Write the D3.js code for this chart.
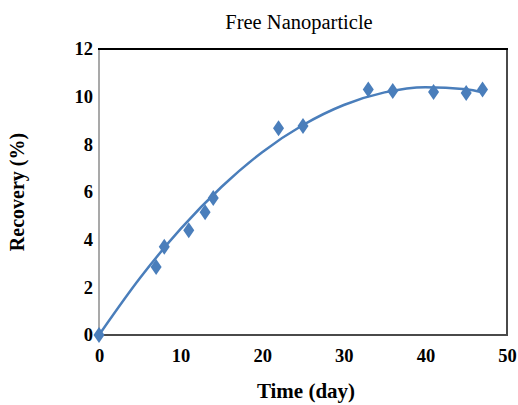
<!DOCTYPE html>
<html>
<head>
<meta charset="utf-8">
<script src="https://cdn.jsdelivr.net/npm/d3@7"></script>
<style>
  html, body { margin: 0; padding: 0; background: #fff; }
  svg { display: block; }
  text { font-family: "Liberation Serif", "Times New Roman", serif; }
</style>
</head>
<body>
<svg id="chart" width="518" height="405"></svg>
<script>
// Data
const days     = [0, 7, 8, 11, 13, 14, 22, 25, 33, 36, 41, 45, 47];
const recovery = [0, 2.85, 3.7, 4.4, 5.15, 5.75, 8.68, 8.77, 10.3, 10.24, 10.2, 10.15, 10.3];
// Trend line (polynomial trendline)
const trendX = [0, 5, 10, 15, 20, 25, 30, 35, 40, 45, 47];
const trendY = [0, 2.38, 4.45, 6.21, 7.67, 8.81, 9.65, 10.18, 10.4, 10.31, 10.18];
const xTicks = [0, 10, 20, 30, 40, 50];
const yTicks = [0, 2, 4, 6, 8, 10, 12];

const svg = d3.select("#chart");
const L = 99, R = 507, T = 49, B = 335;
const x = d3.scaleLinear().domain([0, 50]).range([L, R]);
const y = d3.scaleLinear().domain([0, 12]).range([B, T]);
const blue = "#4a7ebb";

// Frame
svg.append("line").attr("x1", L).attr("x2", L).attr("y1", T).attr("y2", B)
  .attr("stroke", "#8c8c8c").attr("stroke-width", 1.5);
svg.append("line").attr("x1", R).attr("x2", R).attr("y1", T).attr("y2", B)
  .attr("stroke", "#4a4a4a").attr("stroke-width", 2);
svg.append("line").attr("x1", L).attr("x2", R + 1).attr("y1", B).attr("y2", B)
  .attr("stroke", "#4a4a4a").attr("stroke-width", 2);
svg.append("line").attr("x1", L - 1).attr("x2", R + 1).attr("y1", T).attr("y2", T)
  .attr("stroke", "#000").attr("stroke-width", 2);

// Axes (labels only)
const xAxis = svg.append("g").attr("transform", `translate(0,${B})`)
  .call(d3.axisBottom(x).tickValues(xTicks).tickSize(0).tickPadding(14).tickFormat(d3.format("d")));
xAxis.select(".domain").remove();
xAxis.selectAll("text").attr("font-size", 18.5).attr("font-weight", "bold")
  .attr("font-family", "Liberation Serif, serif").attr("fill", "#000");

const yAxis = svg.append("g").attr("transform", `translate(${L},0)`)
  .call(d3.axisLeft(y).tickValues(yTicks).tickSize(0).tickPadding(6).tickFormat(d3.format("d")));
yAxis.select(".domain").remove();
yAxis.selectAll("text").attr("font-size", 18.5).attr("font-weight", "bold")
  .attr("font-family", "Liberation Serif, serif").attr("fill", "#000");

// Trend line
const line = d3.line().x(d => x(d[0])).y(d => y(d[1])).curve(d3.curveMonotoneX);
svg.append("path").datum(trendX.map((d, i) => [d, trendY[i]]))
  .attr("d", line).attr("fill", "none").attr("stroke", blue).attr("stroke-width", 2.5);

// Markers (diamonds)
const hw = 5.5, hh = 8;
svg.append("g").selectAll("path").data(days.map((d, i) => [d, recovery[i]])).join("path")
  .attr("transform", d => `translate(${x(d[0])},${y(d[1])})`)
  .attr("d", `M0,${-hh}L${hw},0L0,${hh}L${-hw},0Z`)
  .attr("fill", blue);

// Titles
svg.append("text").attr("x", 299).attr("y", 29).attr("text-anchor", "middle")
  .attr("font-size", 20.5).text("Free Nanoparticle");
svg.append("text").attr("x", 306).attr("y", 398).attr("text-anchor", "middle")
  .attr("font-size", 21).attr("font-weight", "bold").text("Time (day)");
svg.append("text").attr("transform", "translate(24,192) rotate(-90)").attr("text-anchor", "middle")
  .attr("font-size", 20).attr("font-weight", "bold").text("Recovery (%)");
</script>
</body>
</html>
